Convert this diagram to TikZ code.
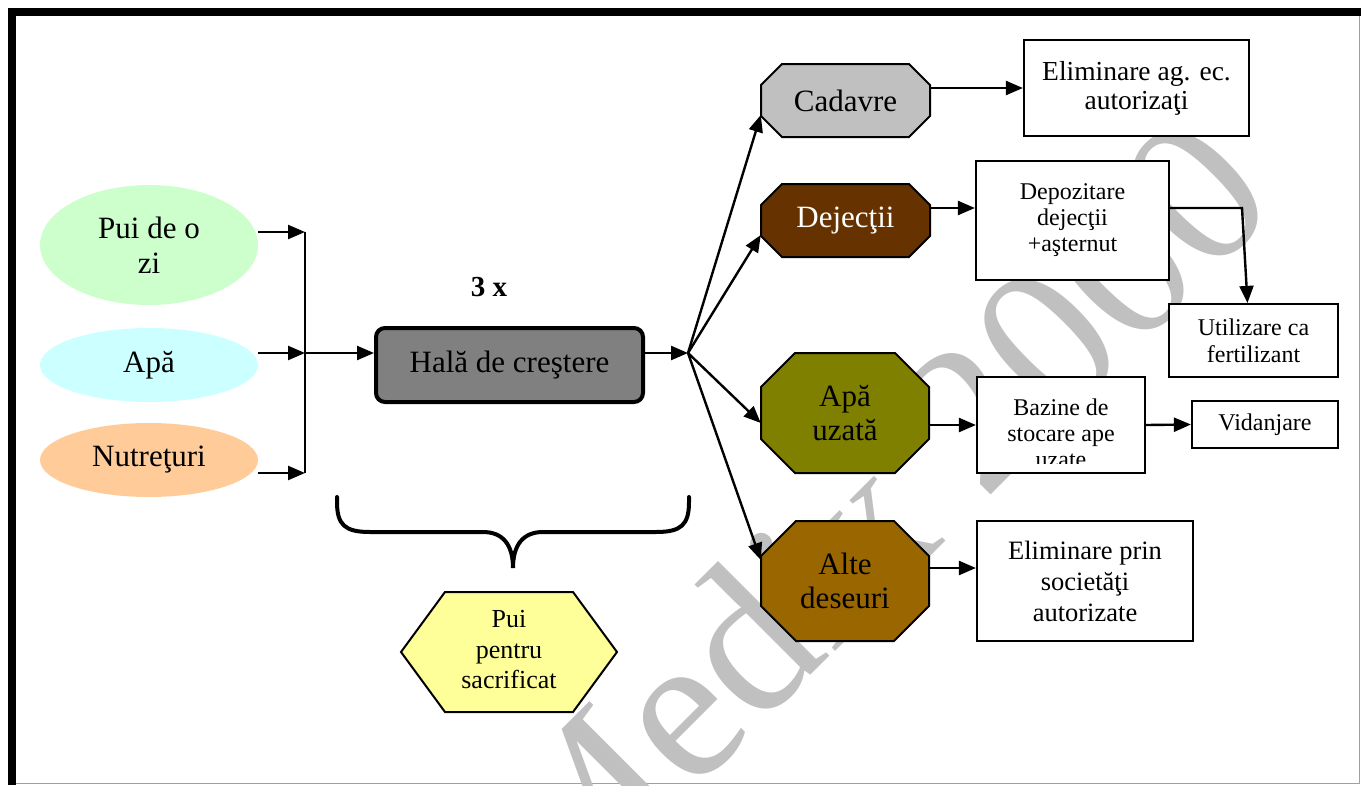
\documentclass[tikz,border=0pt]{standalone}
\usepackage{fontspec}
\setmainfont{Liberation Serif}
\usetikzlibrary{arrows.meta,calc,shapes.geometric}

\definecolor{puigreen}{HTML}{CCFFCC}
\definecolor{apacyan}{HTML}{CCFFFF}
\definecolor{nutorange}{HTML}{FFCC99}
\definecolor{halagray}{HTML}{808080}
\definecolor{cadgray}{HTML}{C0C0C0}
\definecolor{dejbrown}{HTML}{663300}
\definecolor{apuolive}{HTML}{808000}
\definecolor{altbrown}{HTML}{996600}
\definecolor{sacyellow}{HTML}{FFFF99}
\definecolor{wmgray}{HTML}{C0C0C0}
\definecolor{framegray}{HTML}{A0A0A0}

% octagon with cut corners: width, height, cut, fill colour
\tikzset{
  pics/octo/.style n args={4}{code={
    \draw[line width=2pt, fill=#4]
      ({-#1/2+#3},{-#2/2}) -- ({#1/2-#3},{-#2/2}) -- ({#1/2},{-#2/2+#3}) -- ({#1/2},{#2/2-#3})
      -- ({#1/2-#3},{#2/2}) -- ({-#1/2+#3},{#2/2}) -- ({-#1/2},{#2/2-#3}) -- ({-#1/2},{-#2/2+#3}) -- cycle;
  }}
}

\begin{document}
\begin{tikzpicture}[x=1pt,y=-1pt,
  conn/.style={line width=2.4pt},
  tip/.style={-{Triangle[length=17pt,width=14pt]}},
  arr/.style={conn,tip},
  big/.style={font=\fontsize{31}{35}\selectfont},
  small/.style={font=\fontsize{24}{24}\selectfont},
  src/.style={ellipse, draw=none, minimum width=218pt, inner sep=0pt, align=center, big},
  box/.style={draw, line width=2.2pt, fill=white, inner sep=0pt, align=center},
  octtext/.style={inner sep=0pt, align=center, font=\fontsize{31}{34.5}\selectfont},
]
\useasboundingbox (0,0) rectangle (1361,785);

% frame
\draw[framegray, line width=1pt] (16,783) -- (1359,783) -- (1359,16);
\fill[black] (8,8) rectangle (1361,16);
\fill[black] (8,8) rectangle (16,785);

% background mark
\node[rotate=45, text=wmgray, font=\fontsize{210}{210}\selectfont, inner sep=0pt] (wm) at (870,515) {Medix 2000};

% inputs
\node[src, fill=puigreen, minimum height=120pt] (pui) at (149,245) {Pui de o\\zi};
\node[src, fill=apacyan, minimum height=74pt] (apa) at (149,365) {Apă};
\node[src, fill=nutorange, minimum height=74pt] (nut) at (149,460) {Nutreţuri};

\coordinate (b1) at (305,232);
\coordinate (b2) at (305,353);
\coordinate (b3) at (305,473);
\draw[arr] ([yshift=13pt]pui.east) -- (b1);
\draw[arr] ([yshift=12pt]apa.east) -- (b2);
\draw[arr] ([yshift=-13pt]nut.east) -- (b3);
\draw[conn] (b1) -- (b3);

% rearing hall
\node[draw, line width=4pt, fill=halagray, rounded corners=9pt, minimum width=267pt, minimum height=74pt,
      inner sep=0pt, big] (hala) at (509.5,365) {Hală de creştere};
\node[font=\bfseries\fontsize{29}{29}\selectfont] (ori) at (489,287) {3 x};
\draw[arr] (b2) -- ([yshift=12pt]hala.west);

\coordinate (fan) at (688,353);
\draw[arr] ([yshift=12pt]hala.east) -- (fan);

% outputs
\pic at (845.5,100.5) {octo={169}{73}{21}{cadgray}};
\node[octtext, minimum width=169pt, minimum height=73pt] (cad) at (845.5,100.5) {Cadavre};
\pic at (845.5,220.5) {octo={169}{73}{21}{dejbrown}};
\node[octtext, text=white, minimum width=169pt, minimum height=73pt] (dej) at (845.5,220.5) {Dejecţii};
\pic at (845,413) {octo={168}{120}{34}{apuolive}};
\node[octtext, minimum width=168pt, minimum height=120pt] (apu) at (845,413) {Apă\\uzată};
\pic at (845,581) {octo={168}{120}{35}{altbrown}};
\node[octtext, minimum width=168pt, minimum height=120pt] (alt) at (845,581) {Alte\\deseuri};

\draw[arr] (fan) -- ([yshift=-14.5pt]cad.west);
\draw[arr] (fan) -- ([yshift=-14.5pt]dej.west);
\draw[arr] (fan) -- ([yshift=-10pt]apu.west);
\draw[arr] (fan) -- ([yshift=21pt]alt.west);

% final destinations
\node[box, font=\fontsize{27.5}{29}\selectfont, minimum width=225pt, minimum height=96pt] (el1) at (1136.5,88) {Eliminare ag. ec.\\autorizaţi};
\node[box, font=\fontsize{24}{26}\selectfont, minimum width=193pt, minimum height=119pt] (dep) at (1072.5,220.5) {Depozitare\\dejecţii\\+aşternut};
\node[box, font=\fontsize{24}{27}\selectfont, minimum width=169pt, minimum height=73pt] (util) at (1253.5,340.5) {Utilizare ca\\fertilizant};
\node[box, minimum width=168pt, minimum height=96pt] (baz) at (1061,425) {};
\begin{scope}
  \clip (979,379) rectangle (1143,463.5);
  \node[inner sep=0pt, align=center, anchor=north, font=\fontsize{24}{26}\selectfont] (baztext) at (1061,398.6) {Bazine de\\stocare ape\\uzate};
\end{scope}
\node[box, small, minimum width=146pt, minimum height=47pt] (vid) at (1265,424.5) {Vidanjare};
\node[box, font=\fontsize{26.5}{31}\selectfont, minimum width=216pt, minimum height=120pt] (el2) at (1085,581) {Eliminare prin\\societăţi\\autorizate};

\coordinate (turn) at (1242,208);
\draw[arr] ([yshift=12.5pt]cad.east) -- (el1.west);
\draw[arr] ([yshift=12.5pt]dej.east) -- ([yshift=12.5pt]dep.west);
\draw[arr] ([yshift=12.5pt]dep.east) -- (turn) -- ([xshift=-6pt]util.north);
\draw[arr] ([yshift=-12pt]apu.east) -- (baz.west);
\draw[arr] (baz.east) -- (vid.west);
\draw[arr] ([yshift=13pt]alt.east) -- ([yshift=13pt]el2.west);

% brace over the slaughter batch
\draw[line width=4pt, line cap=round]
  (337,497) -- (337,502) .. controls (337,525) and (345,532) .. (370,532) -- (483,532)
  .. controls (503,532) and (513,545) .. (513,568)
  .. controls (513,545) and (523,532) .. (543,532) -- (656,532)
  .. controls (681,532) and (689,525) .. (689,502) -- (689,497);

% slaughter batch
\draw[line width=2pt, fill=sacyellow] (401,652) -- (445,592) -- (573,592) -- (617,652) -- (573,712) -- (445,712) -- cycle;
\node[inner sep=0pt, align=center, font=\fontsize{26}{30.5}\selectfont] (sac) at (509,650) {Pui\\pentru\\sacrificat};
\end{tikzpicture}
\end{document}
